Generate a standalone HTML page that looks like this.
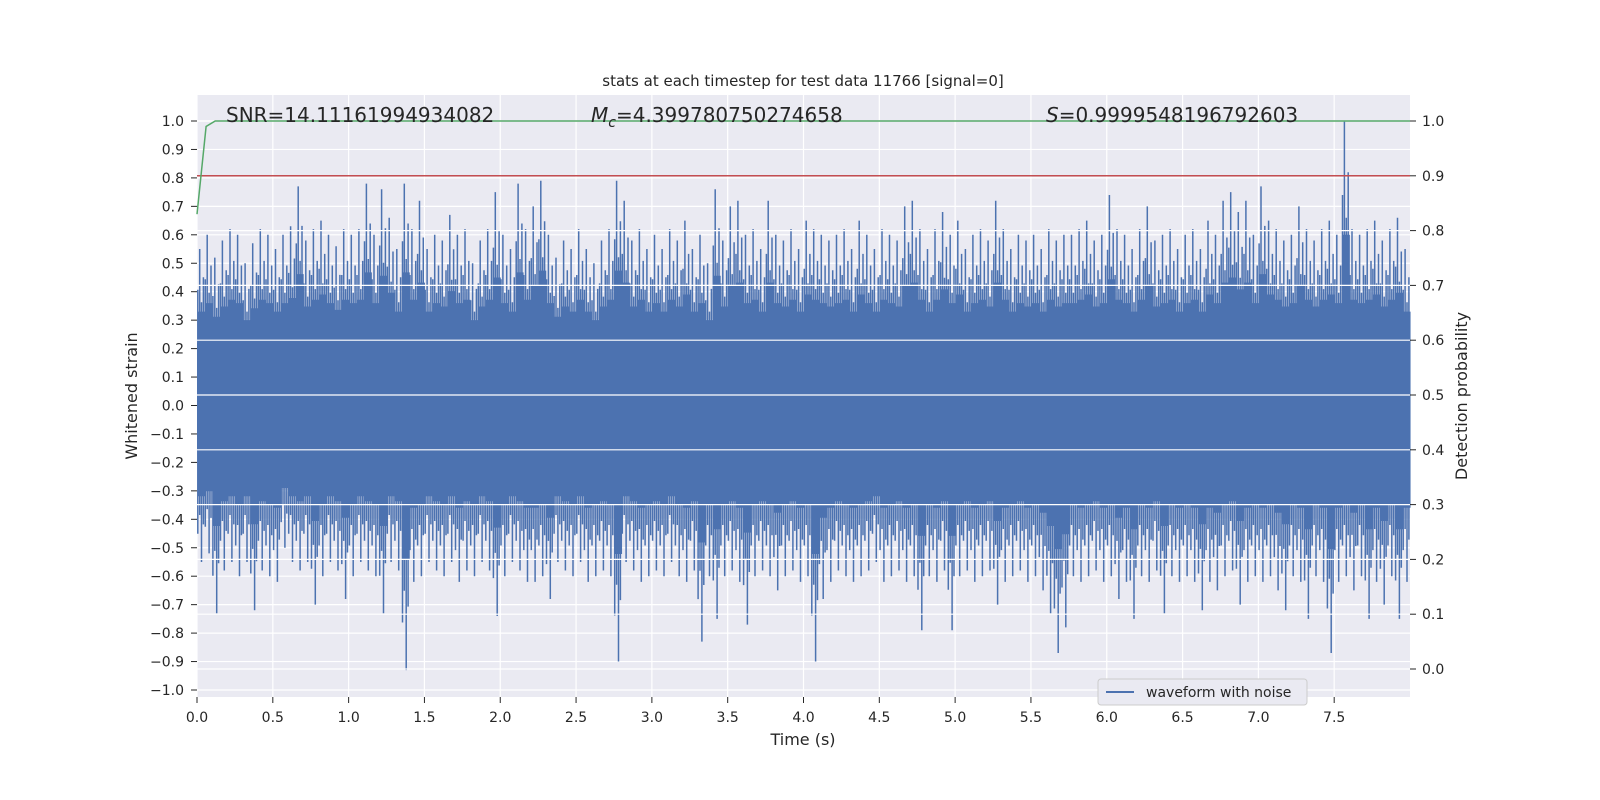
<!DOCTYPE html>
<html><head><meta charset="utf-8"><style>
html,body{margin:0;padding:0;background:#fff;width:1600px;height:800px;overflow:hidden;}
svg{display:block;font-family:"DejaVu Sans","Liberation Sans",sans-serif;}
</style></head><body>
<svg id="chart" width="1600" height="800" viewBox="0 0 1600 800">
<rect x="197" y="95" width="1213" height="602" fill="#eaeaf2"/>
<g id="gridL"></g><g id="wave"></g><g id="gridR"></g><g id="lines"></g><g id="axes"></g>
<text x="803" y="86" font-size="15" text-anchor="middle" fill="#262626">stats at each timestep for test data 11766 [signal=0]</text>
<text x="226" y="122" font-size="20" fill="#262626">SNR=14.11161994934082</text>
<text x="591" y="122" font-size="20" fill="#262626"><tspan font-style="italic">M</tspan><tspan font-style="italic" font-size="14" dy="5">c</tspan><tspan dy="-5">=4.399780750274658</tspan></text>
<text x="1046" y="122" font-size="20" fill="#262626"><tspan font-style="italic">S</tspan>=0.9999548196792603</text>
<text x="803" y="745" font-size="16" text-anchor="middle" fill="#262626">Time (s)</text>
<text transform="translate(137,396) rotate(-90)" font-size="16" text-anchor="middle" fill="#262626">Whitened strain</text>
<text transform="translate(1467,396) rotate(-90)" font-size="16" text-anchor="middle" fill="#262626">Detection probability</text>
<g>
<rect x="1098" y="679" width="209" height="26" rx="3" fill="#eaeaf2" stroke="#cccccc"/>
<line x1="1106" y1="692" x2="1134" y2="692" stroke="#4c72b0" stroke-width="2"/>
<text x="1146" y="697" font-size="14" fill="#262626">waveform with noise</text>
</g>
</svg>
<script>
const xTicks=[0,0.5,1,1.5,2,2.5,3,3.5,4,4.5,5,5.5,6,6.5,7,7.5];
const yTicksL=[1,0.9,0.8,0.7,0.6,0.5,0.4,0.3,0.2,0.1,0,-0.1,-0.2,-0.3,-0.4,-0.5,-0.6,-0.7,-0.8,-0.9,-1];
const yTicksR=[1,0.9,0.8,0.7,0.6,0.5,0.4,0.3,0.2,0.1,0];
const upperPeaks=[0.55,0.6,0.52,0.58,0.62,0.6,0.5,0.57,0.62,0.6,
0.55,0.6,0.63,0.77,0.58,0.62,0.65,0.6,0.56,0.62,
0.6,0.62,0.78,0.6,0.76,0.66,0.55,0.78,0.62,0.72,
0.55,0.6,0.58,0.67,0.6,0.62,0.5,0.58,0.62,0.75,
0.6,0.55,0.78,0.62,0.7,0.79,0.6,0.52,0.58,0.55,
0.62,0.55,0.5,0.58,0.62,0.79,0.72,0.58,0.62,0.55,
0.6,0.55,0.62,0.58,0.65,0.55,0.6,0.5,0.76,0.58,
0.7,0.72,0.6,0.62,0.55,0.72,0.6,0.58,0.62,0.55,
0.65,0.62,0.6,0.58,0.6,0.62,0.55,0.65,0.6,0.55,
0.62,0.6,0.58,0.7,0.72,0.62,0.55,0.62,0.68,0.6,
0.65,0.55,0.6,0.62,0.58,0.72,0.62,0.55,0.6,0.58,
0.6,0.55,0.62,0.58,0.6,0.6,0.62,0.65,0.58,0.6,
0.74,0.62,0.6,0.55,0.62,0.7,0.58,0.6,0.62,0.55,
0.6,0.62,0.55,0.65,0.6,0.72,0.75,0.68,0.72,0.6,
0.77,0.65,0.62,0.58,0.6,0.7,0.62,0.58,0.62,0.65,
0.6,1.0,0.62,0.6,0.62,0.65,0.58,0.62,0.66,0.55];
const lowerPeaks=[-0.55,-0.52,-0.73,-0.58,-0.55,-0.6,-0.55,-0.72,-0.58,-0.6,
-0.62,-0.5,-0.55,-0.58,-0.55,-0.7,-0.6,-0.55,-0.58,-0.68,
-0.6,-0.55,-0.58,-0.6,-0.73,-0.55,-0.58,-0.93,-0.62,-0.6,
-0.55,-0.58,-0.6,-0.55,-0.62,-0.58,-0.6,-0.55,-0.58,-0.74,
-0.6,-0.55,-0.58,-0.62,-0.62,-0.6,-0.68,-0.55,-0.58,-0.6,
-0.55,-0.62,-0.6,-0.58,-0.6,-0.9,-0.55,-0.58,-0.62,-0.6,
-0.58,-0.6,-0.55,-0.6,-0.62,-0.58,-0.83,-0.6,-0.75,-0.6,
-0.58,-0.62,-0.77,-0.6,-0.58,-0.6,-0.65,-0.6,-0.58,-0.62,
-0.6,-0.9,-0.68,-0.62,-0.58,-0.6,-0.62,-0.6,-0.58,-0.55,
-0.62,-0.6,-0.58,-0.62,-0.6,-0.79,-0.6,-0.62,-0.58,-0.79,
-0.6,-0.58,-0.62,-0.6,-0.58,-0.7,-0.62,-0.6,-0.58,-0.62,
-0.6,-0.65,-0.73,-0.87,-0.78,-0.6,-0.62,-0.6,-0.58,-0.62,
-0.6,-0.68,-0.62,-0.75,-0.6,-0.62,-0.58,-0.73,-0.6,-0.62,
-0.6,-0.62,-0.72,-0.62,-0.65,-0.6,-0.58,-0.7,-0.62,-0.6,
-0.62,-0.6,-0.65,-0.72,-0.6,-0.62,-0.75,-0.6,-0.62,-0.87,
-0.62,-0.6,-0.65,-0.6,-0.75,-0.62,-0.7,-0.6,-0.75,-0.62];
const probTimes=[0,0.06,0.12,8];
const probValues=[0.83,0.99,1.0,1.0];
const threshold=0.9;
const NS='http://www.w3.org/2000/svg';
const X=t=>197+t*(1213/8);
const YL=v=>405.5-v*284.5;
const YR=v=>669-v*548;
function mk(parent,tag,attrs){const e=document.createElementNS(NS,tag);for(const k in attrs)e.setAttribute(k,attrs[k]);document.getElementById(parent).appendChild(e);return e;}
xTicks.forEach(t=>{
 const g=mk('gridL','line',{x1:X(t),x2:X(t),y1:95,y2:697,stroke:'#fff','stroke-width':1.2});
 
 
 const tk=mk('axes','line',{x1:X(t),x2:X(t),y1:697,y2:703,stroke:'#262626','stroke-width':1});
 
 
 const l=mk('axes','text',{x:X(t),y:722,'font-size':14,'text-anchor':'middle',fill:'#262626'});
 l.textContent=t.toFixed(1);
 
 
});
yTicksL.forEach(v=>{
 const g=mk('gridL','line',{x1:197,x2:1410,y1:YL(v),y2:YL(v),stroke:'#fff','stroke-width':1.2});
 
 
 const tk=mk('axes','line',{x1:191,x2:197,y1:YL(v),y2:YL(v),stroke:'#262626','stroke-width':1});
 
 
 const l=mk('axes','text',{x:184,y:YL(v)+5,'font-size':14,'text-anchor':'end',fill:'#262626'});
 l.textContent=(v<0?'\u2212':'')+Math.abs(v).toFixed(1);
 
 
});
const base=mk('wave','rect',{x:X(0),y:YL(0.22),width:X(8)-X(0),height:YL(-0.16)-YL(0.22),fill:'#4c72b0'});


const bw=8/upperPeaks.length;
const fr=[0.1,0.35,0.6,0.85],sc=[0.74,1,0.66,0.82],sl=[0.82,0.7,1,0.76];
let d='';
upperPeaks.forEach((u,i)=>{
 fr.forEach((f,j)=>{
  const x=X((i+f)*bw).toFixed(1);
  d+=`M${x},${YL(0).toFixed(1)}V${YL(u*sc[j]).toFixed(1)}`;
  d+=`M${x},${YL(0).toFixed(1)}V${YL(lowerPeaks[i]*sl[j]).toFixed(1)}`;
 });
 for(let k=0;k<4;k++){const x=X((i+0.22+k*0.25)*bw).toFixed(1);
  d+=`M${x},${YL(u*0.6).toFixed(1)}V${YL(lowerPeaks[i]*0.58).toFixed(1)}`;}
});
const wp=mk('wave','path',{d:d,stroke:'#4c72b0','stroke-width':1.5,fill:'none'});


yTicksR.forEach(v=>{
 const g=mk('gridR','line',{x1:197,x2:1410,y1:YR(v),y2:YR(v),stroke:'#fff','stroke-width':1.2});
 
 
 const tk=mk('axes','line',{x1:1410,x2:1416,y1:YR(v),y2:YR(v),stroke:'#262626','stroke-width':1});
 
 
 const l=mk('axes','text',{x:1422,y:YR(v)+5,'font-size':14,fill:'#262626'});
 l.textContent=v.toFixed(1);
 
 
});
const th=mk('lines','line',{x1:197,x2:1410,y1:YR(threshold),y2:YR(threshold),stroke:'#c44e52','stroke-width':1.5});


const pp=mk('lines','polyline',{points:probTimes.map((t,i)=>X(t)+','+YR(probValues[i])).join(' '),stroke:'#55a868','stroke-width':1.5,fill:'none'});


</script>
</body></html>
